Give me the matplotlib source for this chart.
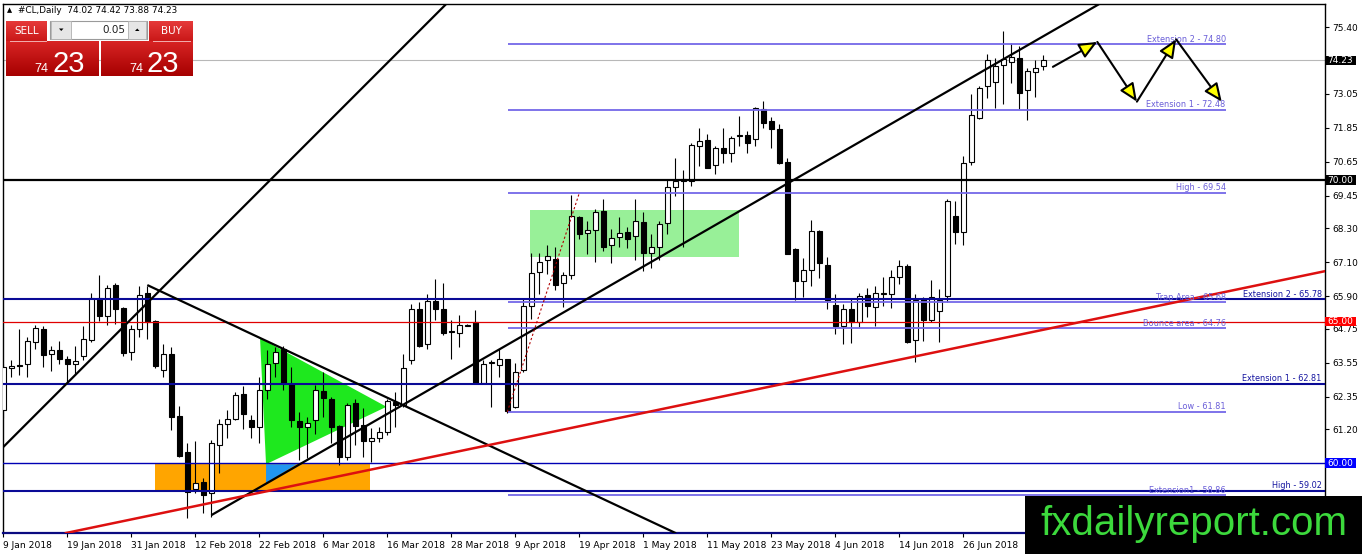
import matplotlib
matplotlib.use("Agg")
import matplotlib.pyplot as plt
from matplotlib.patches import Rectangle, Polygon, FancyArrowPatch
from matplotlib.colors import to_rgb
import matplotlib.transforms as mtransforms
import numpy as np

# ---------------- data ----------------
header_text = "#CL,Daily  74.02 74.42 73.88 74.23"

date_labels = ["9 Jan 2018", "19 Jan 2018", "31 Jan 2018", "12 Feb 2018", "22 Feb 2018",
               "6 Mar 2018", "16 Mar 2018", "28 Mar 2018", "9 Apr 2018", "19 Apr 2018",
               "1 May 2018", "11 May 2018", "23 May 2018", "4 Jun 2018", "14 Jun 2018",
               "26 Jun 2018"]
date_ticks = [0, 8, 16, 24, 32, 40, 48, 56, 64, 72, 80, 88, 96, 104, 112, 120]

opens = [61.87, 63.37, 63.48, 63.51, 64.27, 64.75, 63.86, 64.00, 63.69, 63.51,
         63.80, 64.34, 65.84, 65.20, 66.30, 65.49, 63.93, 64.72, 66.02, 65.02,
         63.30, 63.86, 61.66, 60.39, 59.08, 59.33, 58.93, 60.64, 61.37, 61.57,
         62.45, 61.54, 61.26, 62.57, 63.54, 64.04, 62.78, 61.49, 61.28, 61.51,
         62.54, 62.25, 61.30, 60.20, 62.11, 61.34, 60.79, 60.87, 61.11, 62.17,
         62.05, 63.63, 65.45, 64.20, 65.72, 65.45, 64.65, 64.60, 64.86, 64.98,
         62.83, 63.55, 63.46, 63.66, 61.97, 63.29, 65.54, 66.75, 67.16, 67.21,
         66.36, 66.63, 68.70, 68.12, 68.24, 68.92, 67.72, 67.98, 68.17, 68.04,
         68.53, 67.42, 67.65, 68.47, 69.77, 70.03, 69.97, 71.21, 71.41, 70.54,
         71.13, 70.97, 71.55, 71.59, 71.44, 72.50, 72.09, 71.80, 70.65, 67.57,
         66.45, 66.83, 68.21, 67.00, 65.57, 64.86, 65.45, 64.98, 65.93, 65.51,
         65.96, 65.98, 66.57, 66.98, 64.36, 65.80, 65.07, 65.37, 65.89, 68.74,
         68.15, 70.65, 72.20, 73.32, 73.47, 74.05, 74.18, 74.30, 73.17, 73.83,
         74.02]
highs = [63.50, 63.63, 64.72, 64.45, 64.87, 64.85, 64.13, 64.30, 63.80, 64.13,
         64.83, 66.02, 66.63, 66.30, 66.36, 65.51, 64.87, 66.24, 66.27, 65.05,
         64.21, 64.10, 62.03, 60.70, 60.78, 59.46, 60.81, 61.57, 61.87, 62.51,
         62.71, 61.69, 63.03, 63.98, 64.10, 64.13, 63.39, 61.81, 61.63, 62.75,
         63.23, 62.34, 61.34, 62.11, 62.28, 61.93, 61.23, 61.28, 62.28, 62.51,
         63.84, 65.63, 65.68, 65.96, 66.51, 66.36, 65.07, 65.22, 64.90, 65.40,
         63.63, 63.63, 64.04, 63.69, 63.54, 65.82, 67.42, 67.42, 67.72, 67.65,
         66.75, 69.48, 68.74, 68.56, 68.98, 69.33, 68.27, 68.70, 68.33, 69.33,
         68.86, 68.09, 68.56, 70.00, 70.77, 70.35, 71.32, 71.85, 71.64, 71.21,
         71.85, 71.56, 72.26, 71.73, 72.58, 72.79, 72.21, 71.97, 70.79, 67.60,
         67.25, 68.59, 68.24, 67.27, 65.98, 65.63, 65.80, 66.00, 66.19, 66.27,
         66.59, 66.83, 67.16, 67.04, 65.96, 65.86, 66.47, 66.16, 69.33, 69.27,
         70.85, 73.05, 73.32, 74.44, 74.32, 75.26, 74.85, 74.73, 73.97, 74.23,
         74.42]
lows = [61.60, 63.05, 63.10, 63.05, 64.04, 63.39, 63.26, 63.51, 62.81, 63.10,
        63.63, 64.28, 65.01, 64.87, 64.93, 63.80, 63.63, 64.45, 64.39, 63.37,
        63.05, 61.16, 60.22, 58.05, 58.93, 58.24, 58.11, 59.64, 60.87, 61.54,
        61.19, 60.87, 60.70, 62.28, 63.03, 62.57, 61.28, 60.11, 60.17, 61.04,
        61.63, 60.70, 59.93, 60.11, 60.64, 60.22, 60.05, 60.75, 60.99, 61.28,
        61.99, 63.51, 64.10, 64.04, 65.05, 64.51, 63.69, 64.10, 64.84, 62.81,
        62.81, 61.99, 63.05, 61.78, 61.93, 63.23, 65.10, 65.96, 66.69, 66.10,
        65.51, 66.51, 67.92, 67.39, 67.10, 67.51, 67.06, 67.65, 67.61, 67.16,
        66.80, 66.90, 67.16, 68.09, 69.45, 67.62, 69.80, 70.50, 70.42, 70.23,
        70.62, 70.65, 71.21, 70.97, 71.21, 71.85, 71.15, 70.56, 67.39, 65.75,
        65.86, 66.27, 66.55, 65.45, 64.55, 64.20, 64.24, 64.80, 65.16, 64.83,
        65.54, 65.49, 66.33, 64.24, 63.57, 64.31, 64.98, 64.28, 65.70, 67.74,
        67.72, 70.54, 72.15, 72.89, 72.56, 72.70, 73.44, 72.50, 72.11, 72.93,
        73.88]
closes = [63.39, 63.44, 63.42, 64.30, 64.79, 63.83, 64.00, 63.69, 63.51, 63.60,
          64.39, 65.84, 65.20, 66.20, 65.45, 63.89, 64.72, 65.93, 64.99, 63.42,
          63.86, 61.63, 60.25, 58.99, 59.29, 58.87, 60.70, 61.37, 61.57, 62.42,
          61.72, 61.28, 62.59, 63.51, 63.93, 62.83, 61.51, 61.28, 61.40, 62.57,
          62.31, 61.28, 60.22, 62.05, 61.30, 60.79, 60.87, 61.11, 62.20, 62.05,
          63.37, 65.45, 64.13, 65.72, 65.45, 64.60, 64.62, 64.87, 64.88, 62.83,
          63.51, 63.58, 63.69, 61.85, 63.23, 65.54, 66.71, 67.10, 67.31, 66.30,
          66.63, 68.74, 68.09, 68.24, 68.86, 67.65, 67.96, 68.12, 67.92, 68.56,
          67.44, 67.65, 68.45, 69.74, 69.97, 69.97, 71.24, 71.38, 70.44, 71.13,
          70.94, 71.50, 71.57, 71.32, 72.56, 72.03, 71.80, 70.62, 67.39, 66.45,
          66.83, 68.19, 67.06, 65.75, 64.86, 65.45, 64.98, 65.89, 65.54, 66.00,
          65.99, 66.57, 66.98, 64.28, 65.77, 65.05, 65.86, 65.75, 69.27, 68.15,
          70.62, 72.29, 73.24, 74.23, 74.03, 74.26, 74.34, 73.09, 73.87, 73.97,
          74.23]

price_ticks = [75.40, 73.05, 71.85, 70.65, 69.45, 68.30, 67.10, 65.90, 64.75,
               63.55, 62.35, 61.20]

current_price = 74.23
round_level = 70.00
red_level = 65.00
blue_level = 60.00

navy_levels = [65.78, 62.81, 59.02]
navy_labels = ["Extension 2 - 65.78", "Extension 1 - 62.81", "High - 59.02"]

fib_levels = [74.80, 72.48, 69.54, 65.68, 64.76, 61.81, 58.86]
fib_labels = ["Extension 2 - 74.80", "Extension 1 - 72.48", "High - 69.54",
              "Trap Area - 65.68", "Bounce area - 64.76", "Low - 61.81",
              "Extension1 - 58.86"]
fib_span = (63.1, 152.8)
fib_trend = ([63.0, 72.0], [61.81, 69.54])

# trendlines: (bar, price) endpoints
trend_steep = ([0.0, 56.0], [60.57, 76.40])
trend_down = ([18.0, 84.1], [66.29, 57.52])
trend_support = ([26.0, 137.0], [58.16, 76.22])
trend_red = ([7.84, 165.2], [57.53, 66.78])

# zones
green_box = (65.8, 92.0, 67.28, 68.94)     # bar0, bar1, p0, p1
orange_box = (19.0, 45.8, 59.01, 59.96)
green_tri = [(32.09, 64.42), (47.9, 61.99), (32.84, 59.96)]
blue_tri = [(32.84, 59.96), (36.7, 59.96), (32.84, 59.29)]

# projected path
path_bars = [131.2, 136.75, 141.7, 146.6, 152.3]
path_prices = [74.00, 74.88, 72.77, 74.97, 72.77]

# ---------------- figure ----------------
W, H = 1362, 554
fig = plt.figure(figsize=(W / 100, H / 100), dpi=100)
fig.patch.set_facecolor("white")

ax_l, ax_r, ax_t, ax_b = 3, 1325, 4, 533
ax = fig.add_axes([ax_l / W, 1 - ax_b / H, (ax_r - ax_l) / W, (ax_b - ax_t) / H])
ax.set_facecolor("white")
PX = 28.3  # pixels per price unit

# zones (behind candles)
ax.add_patch(Rectangle((green_box[0], green_box[2]), green_box[1] - green_box[0],
                       green_box[3] - green_box[2], facecolor="#98f098", edgecolor="none", zorder=1))
ax.add_patch(Rectangle((orange_box[0], orange_box[2]), orange_box[1] - orange_box[0],
                       orange_box[3] - orange_box[2], facecolor="#ffa500", edgecolor="none", zorder=1))
ax.add_patch(Polygon(green_tri, closed=True, facecolor="#1ee81e", edgecolor="none", zorder=1.2))
ax.add_patch(Polygon(blue_tri, closed=True, facecolor="#2196f0", edgecolor="none", zorder=1.2))

# current price line
ax.axhline(current_price, color="#b8b8b8", lw=0.8, zorder=2)

# candles
idx = np.arange(len(opens))
o = np.array(opens)
c = np.array(closes)
up = c >= o
ax.vlines(idx, lows, highs, color="black", lw=0.8, zorder=3)
bottoms = np.minimum(o, c)
heights = np.maximum(np.abs(c - o), 0.035)
ax.bar(idx, heights, bottom=bottoms, width=0.62,
       color=["white" if u else "black" for u in up],
       edgecolor="black", linewidth=0.8, zorder=4)

# horizontal levels
ax.axhline(round_level, color="black", lw=1.6, zorder=5)
ax.axhline(red_level, color="#e00000", lw=0.9, zorder=5)
ax.axhline(blue_level, color="#0000b4", lw=1.0, zorder=5)
for lv in navy_levels:
    ax.axhline(lv, color="#0a0a96", lw=1.5, zorder=5)
ax.hlines(fib_levels, fib_span[0], fib_span[1], color="#7468e8", lw=1.3, zorder=5)

# trendlines
for xs, ys in (trend_steep, trend_down, trend_support):
    ax.plot(xs, ys, color="black", lw=1.6, zorder=5, solid_capstyle="butt")
ax.plot(trend_red[0], trend_red[1], color="#dd1010", lw=1.8, zorder=5)
ax.plot(fib_trend[0], fib_trend[1], color="#b00000", lw=0.8, ls=(0, (2, 2)), zorder=5)

# labels of levels
for lv, lb in zip(fib_levels, fib_labels):
    ax.text(fib_span[1], lv + 0.6 / PX, lb, ha="right", va="bottom", fontsize=5.9,
            color="#6a5ed8", zorder=6)
for lv, lb in zip(navy_levels, navy_labels):
    ax.text(164.8, lv + 0.6 / PX, lb, ha="right", va="bottom", fontsize=5.9,
            color="#1414a0", zorder=6)

# projected zig-zag path with yellow heads
for k in range(len(path_bars) - 1):
    arr = FancyArrowPatch((path_bars[k], path_prices[k]), (path_bars[k + 1], path_prices[k + 1]),
                          arrowstyle="-|>,head_length=1.1,head_width=0.48", mutation_scale=10,
                          lw=1.5, edgecolor="black", facecolor="#ffff00",
                          shrinkA=0, shrinkB=0, zorder=7)
    ax.add_patch(arr)

# axes limits / ticks
ax.set_xlim(-0.04, (1325 - 3.3) / 8)
ax.set_ylim(57.53, 76.22)
ax.yaxis.tick_right()
ax.set_yticks(price_ticks)
ax.set_yticklabels([f"{v:.2f}" for v in price_ticks])
ax.set_xticks(date_ticks)
ax.set_xticklabels(date_labels, ha="left")
ax.tick_params(axis="y", direction="out", length=3, width=0.8, pad=2.5, labelsize=6.5)
ax.tick_params(axis="x", direction="out", length=3, width=0.8, pad=2.5, labelsize=6.6)
for s in ("left", "top", "right"):
    ax.spines[s].set_color("black")
    ax.spines[s].set_linewidth(1.0)
ax.spines["bottom"].set_color("#0a0a80")
ax.spines["bottom"].set_linewidth(1.6)

# price highlight boxes on the axis
trans = mtransforms.blended_transform_factory(ax.transAxes, ax.transData)
axw = ax_r - ax_l
for val, fc in [(current_price, "black"), (round_level, "black"),
                (red_level, "#ff0000"), (blue_level, "#0000ff")]:
    ax.add_patch(Rectangle((1.0, val - 4.6 / PX), 31 / axw, 9.2 / PX,
                           transform=trans, facecolor=fc, edgecolor="none",
                           clip_on=False, zorder=8))
    ax.text(1.0 + 2.5 / axw, val - 0.3 / PX, f"{val:.2f}", transform=trans, color="white",
            fontsize=6.5, ha="left", va="center", clip_on=False, zorder=9)

# ---------------- overlay (panel + watermark) ----------------
ov = fig.add_axes([0, 0, 1, 1], zorder=10)
ov.axis("off")
ov.patch.set_visible(False)


def grad_box(x0, y0, x1, y1, ctop, cbot):
    t = np.linspace(0, 1, 64)[:, None]
    a = np.array(to_rgb(ctop))
    b = np.array(to_rgb(cbot))
    img = (a * (1 - t) + b * t)[:, None, :]
    ov.imshow(img, extent=(x0, x1, y1, y0), aspect="auto", interpolation="bilinear", zorder=2)


ov.text(7, 10.5, "\u25b2", fontsize=4.8, va="center", ha="left", color="black")
ov.text(18, 10.5, header_text, fontsize=6.4, va="center", ha="left", color="black")

grad_box(6, 20.7, 46.7, 41.7, "#e63a3a", "#c81616")
grad_box(149.3, 20.7, 192.7, 41.7, "#e63a3a", "#c81616")
grad_box(6, 41.7, 98.7, 76, "#d82424", "#a60000")
grad_box(101, 41.7, 192.7, 76, "#d82424", "#a60000")
ov.plot([10, 46], [41.2, 41.2], color="#f2b0b0", lw=0.7, zorder=3)
ov.plot([153, 190], [41.2, 41.2], color="#f2b0b0", lw=0.7, zorder=3)

ov.add_patch(Rectangle((50, 20.7), 96.7, 18.6, facecolor="white", edgecolor="#9a9a9a", lw=0.8, zorder=2))
ov.add_patch(Rectangle((50.5, 21.2), 20.2, 17.6, facecolor="#e6e6e6", edgecolor="#b0b0b0", lw=0.6, zorder=3))
ov.add_patch(Rectangle((128, 21.2), 18.2, 17.6, facecolor="#e6e6e6", edgecolor="#b0b0b0", lw=0.6, zorder=3))
ov.add_patch(Polygon([(59, 28.5), (63.5, 28.5), (61.25, 31)], closed=True, facecolor="black", zorder=4))
ov.add_patch(Polygon([(135, 31), (139.5, 31), (137.25, 28.5)], closed=True, facecolor="black", zorder=4))
ov.text(125, 30, "0.05", fontsize=7.5, ha="right", va="center", color="#202020", zorder=4)

ov.text(26.5, 31, "SELL", fontsize=7.5, ha="center", va="center", color="white", zorder=4)
ov.text(171, 31, "BUY", fontsize=7.5, ha="center", va="center", color="white", zorder=4)
for xr, xl in ((48.5, 52.5), (143, 147)):
    ov.text(xr, 71.5, "74", fontsize=9, ha="right", va="baseline", color="white",
            family="Liberation Sans", zorder=4)
    ov.text(xl, 71.5, "23", fontsize=21, ha="left", va="baseline", color="white",
            family="Liberation Sans", zorder=4)

ov.add_patch(Rectangle((1025, 496), 337, 58, facecolor="black", edgecolor="none", zorder=5))
ov.text(1040, 535, "fxdailyreport.com", fontsize=29, ha="left", va="baseline",
        color="#3cd93c", family="Liberation Sans", zorder=6)

ov.set_xlim(0, W)
ov.set_ylim(H, 0)

fig.savefig("out.png", dpi=100, facecolor="white")
